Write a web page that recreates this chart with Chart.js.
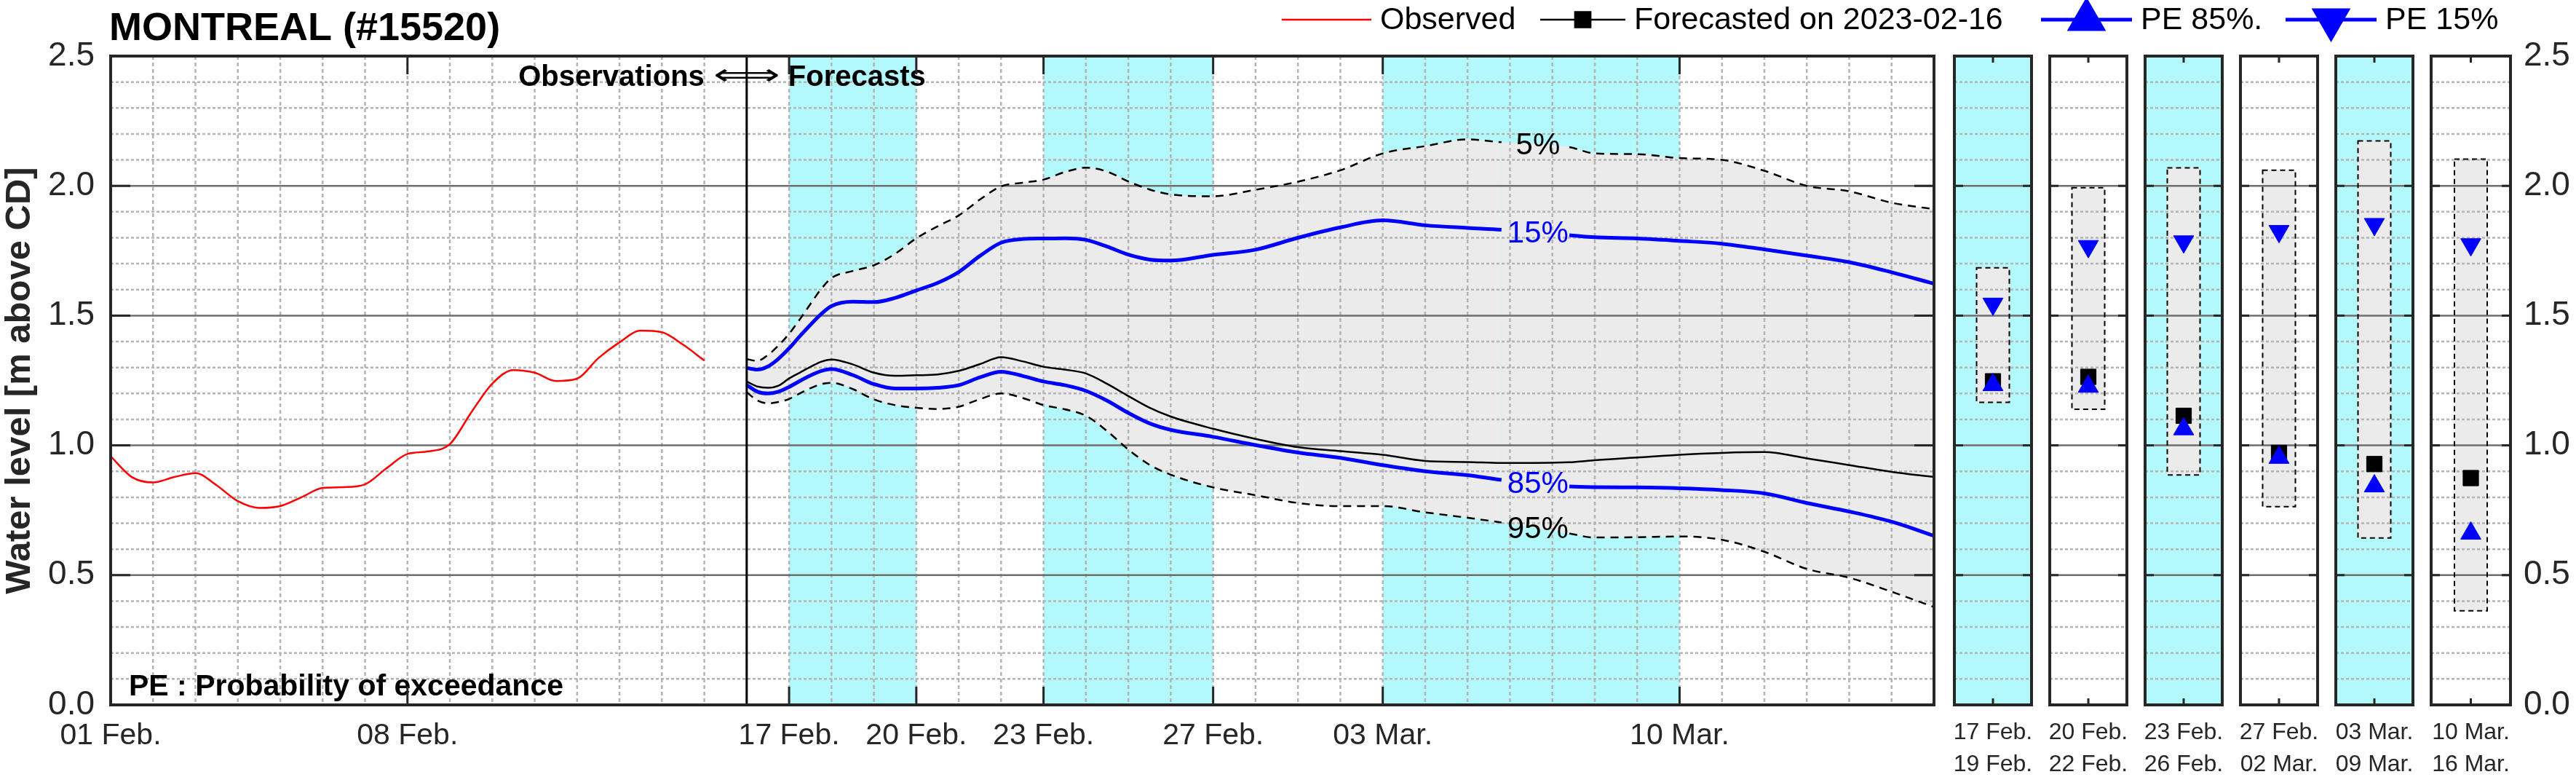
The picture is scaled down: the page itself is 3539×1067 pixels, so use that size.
<!DOCTYPE html>
<html>
<head>
<meta charset="utf-8">
<title>MONTREAL (#15520)</title>
<script src="https://cdn.jsdelivr.net/npm/chart.js@4.4.0/dist/chart.umd.min.js"></script>
<style>
  html, body { margin: 0; padding: 0; background: #fff; }
  #wrap { position: relative; width: 3539px; height: 1067px; overflow: hidden; }
  #wrap canvas { position: absolute; top: 0; }
</style>
</head>
<body>
<div id="wrap"></div>
<script>
// Water level forecast, Montreal station #15520 (days counted from 2023-02-01)

// Observed levels, every half day from 01 Feb. to 15 Feb.
const OBS_DAYS = [0, 0.5, 1, 1.5, 2, 2.5, 3, 3.5, 4, 4.5, 5, 5.5, 6, 6.5, 7, 7.5,
    8, 8.5, 9, 9.5, 10, 10.5, 11, 11.5, 12, 12.5, 13, 13.5, 14];
const OBS_LEVEL = [0.958, 0.878, 0.857, 0.878, 0.893, 0.846, 0.785, 0.759, 0.766, 0.800,
    0.836, 0.839, 0.850, 0.911, 0.967, 0.977, 1.005, 1.126, 1.238, 1.290, 1.280, 1.248,
    1.257, 1.336, 1.397, 1.442, 1.436, 1.388, 1.327];

// Forecast issued on 2023-02-16
const ISSUE_DAY = 15;
const FC_DAYS = [15, 15.25, 15.5, 15.75, 16, 16.25, 16.5, 16.75, 17, 17.5, 18, 18.5, 19, 19.5,
    20, 20.5, 21, 21.5, 22, 22.5, 23, 23.5, 24, 24.5, 25, 26, 27, 28, 29, 30, 31, 32, 32.8,
    34.4, 35, 36, 37, 38, 39, 40, 41, 42, 43];
const FC_LEVEL = [1.246, 1.227, 1.222, 1.230, 1.258, 1.280, 1.302, 1.322, 1.331, 1.312, 1.280,
    1.268, 1.270, 1.273, 1.287, 1.313, 1.340, 1.324, 1.303, 1.292, 1.277, 1.237, 1.190, 1.145,
    1.111, 1.064, 1.025, 0.993, 0.978, 0.964, 0.940, 0.936, 0.932, 0.935, 0.943, 0.953, 0.964,
    0.971, 0.974, 0.950, 0.924, 0.898, 0.878];
const FC_P5 = [1.332, 1.326, 1.348, 1.385, 1.430, 1.485, 1.544, 1.601, 1.645, 1.672, 1.694,
    1.738, 1.798, 1.844, 1.886, 1.947, 1.998, 2.012, 2.024, 2.053, 2.070, 2.055, 2.017, 1.986,
    1.967, 1.960, 1.985, 2.016, 2.060, 2.125, 2.153, 2.179, 2.168, 2.149, 2.125, 2.122, 2.107,
    2.100, 2.058, 2.000, 1.979, 1.935, 1.910];
const FC_P15 = [1.298, 1.292, 1.304, 1.334, 1.374, 1.420, 1.464, 1.505, 1.537, 1.554, 1.552,
    1.568, 1.597, 1.626, 1.668, 1.730, 1.781, 1.795, 1.797, 1.798, 1.792, 1.766, 1.735, 1.716,
    1.712, 1.734, 1.754, 1.800, 1.840, 1.867, 1.848, 1.838, 1.831, 1.810, 1.802, 1.797, 1.788,
    1.777, 1.755, 1.731, 1.706, 1.667, 1.623];
const FC_P85 = [1.233, 1.207, 1.200, 1.207, 1.225, 1.248, 1.269, 1.286, 1.294, 1.271, 1.236,
    1.219, 1.219, 1.222, 1.232, 1.262, 1.284, 1.268, 1.246, 1.232, 1.210, 1.172, 1.125, 1.085,
    1.060, 1.033, 1.001, 0.972, 0.952, 0.924, 0.900, 0.885, 0.867, 0.842, 0.839, 0.838, 0.835,
    0.828, 0.815, 0.778, 0.745, 0.706, 0.652];
const FC_P95 = [1.205, 1.173, 1.162, 1.167, 1.179, 1.200, 1.220, 1.236, 1.241, 1.217, 1.177,
    1.155, 1.145, 1.140, 1.149, 1.178, 1.200, 1.183, 1.155, 1.139, 1.114, 1.055, 0.984, 0.925,
    0.887, 0.838, 0.808, 0.778, 0.766, 0.766, 0.742, 0.721, 0.703, 0.660, 0.645, 0.646, 0.649,
    0.636, 0.590, 0.524, 0.490, 0.436, 0.377];
// where the curve labels sit (line left open between these two days)
const LABEL_GAP = [32.8, 34.4];

// x axis ticks
const TICK_DAYS = [0, 7, 16, 19, 22, 26, 30, 37];
const TICK_LABELS = ['01 Feb.', '08 Feb.', '17 Feb.', '20 Feb.', '23 Feb.', '27 Feb.', '03 Mar.', '10 Mar.'];
const SHADED_SPANS = [[16, 19], [22, 26], [30, 37]];

// Summary per period (small panels)
const PERIOD_START = [16, 19, 22, 26, 30, 37];
const PERIOD_LABELS = [['17 Feb.', '19 Feb.'], ['20 Feb.', '22 Feb.'], ['23 Feb.', '26 Feb.'],
    ['27 Feb.', '02 Mar.'], ['03 Mar.', '09 Mar.'], ['10 Mar.', '16 Mar.']];
const PERIOD_P95 = [1.166, 1.139, 0.886, 0.764, 0.643, 0.363];
const PERIOD_P5 = [1.684, 1.993, 2.069, 2.060, 2.173, 2.103];
const PERIOD_FC = [1.247, 1.264, 1.114, 0.971, 0.928, 0.874];
const PERIOD_PE85 = [1.233, 1.227, 1.063, 0.953, 0.843, 0.661];
const PERIOD_PE15 = [1.545, 1.767, 1.785, 1.825, 1.852, 1.774];

// Layout / style
const W = 3539, H = 1067;
const AREA_TOP = 77, AREA_BOTTOM = 968;
const MAIN_LEFT = 152, MAIN_RIGHT = 2657;
const PANEL_LEFT = [2682, 2813, 2944, 3075, 3206, 3337];
const PANEL_W = 112;
const PANEL_MARGIN = 14;
const FONT = "'Liberation Sans', Arial, Helvetica, sans-serif";
const INK = '#262626';
const CYAN = '#b3f8fa';
const BAND = '#ebebeb';
const BLUE = '#0000ff';
const RED = '#ff0000';
const GRID_MINOR = '#b4b4b4';
const GRID_MAJOR = '#6e6e6e';

Chart.defaults.font.family = FONT;
Chart.defaults.color = INK;

const wrap = document.getElementById('wrap');

function makeCanvas(left, width) {
    const c = document.createElement('canvas');
    c.width = width;
    c.height = H;
    c.style.left = left + 'px';
    c.style.width = width + 'px';
    c.style.height = H + 'px';
    wrap.appendChild(c);
    return c;
}

function pts(xs, ys) {
    return xs.map((x, i) => ({ x: x, y: ys[i] }));
}

function strokeLine(ctx, x0, y0, x1, y1) {
    ctx.beginPath();
    ctx.moveTo(x0, y0);
    ctx.lineTo(x1, y1);
    ctx.stroke();
}

// hide the line where a label is written
const labelGap = {
    borderColor: c => (c.p0.parsed.x >= LABEL_GAP[0] - 0.01 && c.p1.parsed.x <= LABEL_GAP[1] + 0.01)
        ? 'rgba(0,0,0,0)' : undefined
};

// Grid drawn by hand so it sits above the fills but under the lines
function drawGrid(chart, withDays) {
    const { ctx, chartArea: a, scales: { x, y } } = chart;
    ctx.save();
    ctx.beginPath();
    ctx.rect(a.left, a.top, a.right - a.left, a.bottom - a.top);
    ctx.clip();
    ctx.lineWidth = 2.5;
    ctx.strokeStyle = GRID_MINOR;
    ctx.setLineDash([4, 3]);
    for (let k = 1; k < 25; k++) {
        if (k % 5 === 0) continue;
        const py = y.getPixelForValue(k / 10);
        strokeLine(ctx, a.left, py, a.right, py);
    }
    if (withDays) {
        ctx.setLineDash([5, 4]);
        for (let d = Math.ceil(x.min) + 1; d < x.max; d++) {
            const px = x.getPixelForValue(d);
            strokeLine(ctx, px, a.top, px, a.bottom);
        }
    }
    ctx.setLineDash([]);
    ctx.strokeStyle = GRID_MAJOR;
    ctx.lineWidth = 2.5;
    for (let k = 5; k < 25; k += 5) {
        const py = y.getPixelForValue(k / 10);
        strokeLine(ctx, a.left, py, a.right, py);
    }
    ctx.restore();
}

function drawFrame(chart, xTickPx, yTickLen, xTickLen) {
    const { ctx, chartArea: a, scales: { y } } = chart;
    ctx.save();
    ctx.setLineDash([]);
    ctx.strokeStyle = INK;
    ctx.lineWidth = 3;
    for (let k = 5; k < 25; k += 5) {
        const py = y.getPixelForValue(k / 10);
        strokeLine(ctx, a.left, py, a.left + yTickLen, py);
        strokeLine(ctx, a.right - yTickLen, py, a.right, py);
    }
    xTickPx.forEach(px => {
        strokeLine(ctx, px, a.bottom, px, a.bottom - xTickLen);
        strokeLine(ctx, px, a.top, px, a.top + xTickLen);
    });
    ctx.lineWidth = 4;
    ctx.strokeRect(a.left, a.top, a.right - a.left, a.bottom - a.top);
    ctx.restore();
}

function drawMarker(ctx, style, rotation, radius, x, y, color) {
    ctx.fillStyle = color;
    ctx.strokeStyle = color;
    Chart.helpers.drawPoint(ctx, { pointStyle: style, rotation: rotation, radius: radius, borderWidth: 1 }, x, y);
}

// ---------- main chart ----------
const mainDecor = {
    id: 'mainDecor',
    beforeDraw(chart) {
        const { ctx, chartArea: a, scales: { x } } = chart;
        ctx.save();
        ctx.fillStyle = CYAN;
        SHADED_SPANS.forEach(([d0, d1]) => {
            const x0 = x.getPixelForValue(d0), x1 = x.getPixelForValue(d1);
            ctx.fillRect(x0, a.top, x1 - x0, a.bottom - a.top);
        });
        ctx.restore();
    },
    beforeDatasetsDraw(chart) {
        drawGrid(chart, true);
    },
    afterDatasetsDraw(chart) {
        const { ctx, chartArea: a, scales: { x, y } } = chart;
        ctx.save();

        // curve labels inside the gaps
        const i0 = FC_DAYS.indexOf(LABEL_GAP[0]), i1 = FC_DAYS.indexOf(LABEL_GAP[1]);
        const lx = x.getPixelForValue((LABEL_GAP[0] + LABEL_GAP[1]) / 2 + 0.06);
        ctx.font = '42px ' + FONT;
        ctx.textAlign = 'center';
        ctx.textBaseline = 'middle';
        [['5%', FC_P5, '#000'], ['15%', FC_P15, BLUE], ['85%', FC_P85, BLUE], ['95%', FC_P95, '#000']]
            .forEach(([txt, arr, col]) => {
                ctx.fillStyle = col;
                ctx.fillText(txt, lx, y.getPixelForValue((arr[i0] + arr[i1]) / 2) + 2);
            });

        // observation / forecast divider
        const xd = x.getPixelForValue(ISSUE_DAY);
        ctx.strokeStyle = '#000';
        ctx.lineWidth = 3;
        strokeLine(ctx, xd, a.top, xd, a.bottom);

        ctx.fillStyle = '#000';
        ctx.textBaseline = 'alphabetic';
        ctx.font = 'bold 40px ' + FONT;
        ctx.textAlign = 'right';
        ctx.fillText('Observations', xd - 58, 118);
        ctx.textAlign = 'left';
        ctx.fillText('Forecasts', xd + 57, 118);
        ctx.save();
        ctx.translate(xd, 116);
        ctx.scale(1.6, 1);
        ctx.font = '40px "DejaVu Sans", ' + FONT;
        ctx.textAlign = 'center';
        ctx.fillText('\u27FA', 0, 0);
        ctx.restore();

        ctx.font = 'bold 41px ' + FONT;
        ctx.textAlign = 'left';
        ctx.fillText('PE : Probability of exceedance', 177, 955);

        ctx.restore();
        drawFrame(chart, TICK_DAYS.slice(1).map(d => x.getPixelForValue(d)), 27, 25);
    },
    afterDraw(chart) {
        const { ctx, chartArea: a } = chart;
        ctx.save();
        // title
        ctx.fillStyle = '#000';
        ctx.font = 'bold 54px ' + FONT;
        ctx.textAlign = 'left';
        ctx.textBaseline = 'alphabetic';
        ctx.fillText('MONTREAL (#15520)', 150, 55);

        // y axis title
        ctx.save();
        ctx.translate(27, (a.top + a.bottom) / 2);
        ctx.rotate(-Math.PI / 2);
        ctx.font = 'bold 49px ' + FONT;
        ctx.textAlign = 'center';
        ctx.textBaseline = 'middle';
        ctx.fillStyle = INK;
        ctx.fillText('Water level [m above CD]', 0, 0);
        ctx.restore();

        // legend
        const ly = 27;
        const items = [
            { x0: 1761, x1: 1884, color: RED, width: 2.5, text: 'Observed' },
            { x0: 2116, x1: 2233, color: '#000', width: 2.5, text: 'Forecasted on 2023-02-16', marker: ['rect', 0, 15] },
            { x0: 2804, x1: 2929, color: BLUE, width: 5, text: 'PE 85%.', marker: ['triangle', 0, 26] },
            { x0: 3140, x1: 3265, color: BLUE, width: 5, text: 'PE 15%', marker: ['triangle', 180, 26] }
        ];
        ctx.font = '43px ' + FONT;
        ctx.textAlign = 'left';
        ctx.textBaseline = 'alphabetic';
        items.forEach(it => {
            ctx.strokeStyle = it.color;
            ctx.lineWidth = it.width;
            strokeLine(ctx, it.x0, ly, it.x1, ly);
            if (it.marker) {
                drawMarker(ctx, it.marker[0], it.marker[1], it.marker[2], (it.x0 + it.x1) / 2, ly, it.color);
            }
            ctx.fillStyle = '#000';
            ctx.fillText(it.text, it.x1 + 12, 40);
        });
        ctx.restore();
    }
};

new Chart(makeCanvas(0, W), {
    type: 'line',
    data: {
        datasets: [
            { label: '5%', data: pts(FC_DAYS, FC_P5), borderColor: '#000', borderWidth: 2.5,
              borderDash: [11, 8], fill: false, segment: labelGap },
            { label: '95%', data: pts(FC_DAYS, FC_P95), borderColor: '#000', borderWidth: 2.5,
              borderDash: [11, 8], fill: '-1', backgroundColor: BAND, segment: labelGap },
            { label: 'Forecasted on 2023-02-16', data: pts(FC_DAYS, FC_LEVEL), borderColor: '#000',
              borderWidth: 2.5, fill: false },
            { label: 'PE 85%', data: pts(FC_DAYS, FC_P85), borderColor: BLUE, borderWidth: 5,
              fill: false, segment: labelGap },
            { label: 'PE 15%', data: pts(FC_DAYS, FC_P15), borderColor: BLUE, borderWidth: 5,
              fill: false, segment: labelGap },
            { label: 'Observed', data: pts(OBS_DAYS, OBS_LEVEL), borderColor: RED, borderWidth: 2.5,
              fill: false }
        ]
    },
    options: {
        responsive: false,
        animation: false,
        events: [],
        layout: { padding: { top: AREA_TOP, right: W - MAIN_RIGHT, left: 0, bottom: 0 } },
        elements: {
            point: { radius: 0 },
            line: { cubicInterpolationMode: 'monotone' }
        },
        plugins: {
            legend: { display: false },
            tooltip: { enabled: false },
            filler: { drawTime: 'beforeDatasetsDraw' }
        },
        scales: {
            x: {
                type: 'linear',
                min: 0,
                max: 43,
                grid: { display: false, drawTicks: false },
                border: { display: false },
                afterBuildTicks: s => { s.ticks = TICK_DAYS.map(v => ({ value: v })); },
                afterFit: s => { s.height = H - AREA_BOTTOM; },
                ticks: {
                    autoSkip: false,
                    maxRotation: 0,
                    padding: 18,
                    color: INK,
                    font: { size: 41 },
                    callback: v => TICK_LABELS[TICK_DAYS.indexOf(v)]
                }
            },
            y: {
                min: 0,
                max: 2.5,
                grid: { display: false, drawTicks: false },
                border: { display: false },
                afterFit: s => { s.width = MAIN_LEFT; },
                ticks: {
                    stepSize: 0.5,
                    padding: 22,
                    color: INK,
                    font: { size: 46 },
                    callback: v => v.toFixed(1)
                }
            }
        }
    },
    plugins: [mainDecor]
});

// ---------- period panels ----------
PERIOD_START.forEach((start, i) => {
    const last = i === PERIOD_START.length - 1;
    const left = PANEL_LEFT[i] - PANEL_MARGIN;
    const width = last ? W - left : PANEL_W + 2 * PANEL_MARGIN;
    const shaded = SHADED_SPANS.some(s => s[0] === start);

    const panelDecor = {
        id: 'panelDecor' + i,
        beforeDraw(chart) {
            if (!shaded) return;
            const { ctx, chartArea: a } = chart;
            ctx.save();
            ctx.fillStyle = CYAN;
            ctx.fillRect(a.left, a.top, a.right - a.left, a.bottom - a.top);
            ctx.restore();
        },
        afterDatasetDraw(chart, args) {
            if (args.meta.type !== 'bar') return;
            drawGrid(chart, false);
            const bar = args.meta.data[0];
            const p = bar.getProps(['x', 'y', 'base', 'width'], true);
            const ctx = chart.ctx;
            ctx.save();
            ctx.strokeStyle = '#000';
            ctx.lineWidth = 2;
            ctx.setLineDash([7, 5]);
            ctx.strokeRect(p.x - p.width / 2, p.y, p.width, p.base - p.y);
            ctx.restore();
        },
        afterDatasetsDraw(chart) {
            const a = chart.chartArea;
            drawFrame(chart, [(a.left + a.right) / 2], 12, 9);
        }
    };

    new Chart(makeCanvas(left, width), {
        type: 'bar',
        data: {
            labels: [PERIOD_LABELS[i]],
            datasets: [
                { type: 'line', label: 'PE 15%', data: [PERIOD_PE15[i]], showLine: false,
                  pointStyle: 'triangle', pointRotation: 180, pointRadius: 16,
                  pointBackgroundColor: BLUE, pointBorderColor: BLUE, pointBorderWidth: 1, order: 1 },
                { type: 'line', label: 'PE 85%', data: [PERIOD_PE85[i]], showLine: false,
                  pointStyle: 'triangle', pointRadius: 16,
                  pointBackgroundColor: BLUE, pointBorderColor: BLUE, pointBorderWidth: 1, order: 1 },
                { type: 'line', label: 'Forecasted', data: [PERIOD_FC[i]], showLine: false,
                  pointStyle: 'rect', pointRadius: 15,
                  pointBackgroundColor: '#000', pointBorderColor: '#000', pointBorderWidth: 1, order: 2 },
                { type: 'bar', label: '5% - 95%', data: [[PERIOD_P95[i], PERIOD_P5[i]]],
                  backgroundColor: BAND, borderWidth: 0, barThickness: 45, order: 3 }
            ]
        },
        options: {
            responsive: false,
            animation: false,
            events: [],
            layout: { padding: { top: AREA_TOP, left: PANEL_MARGIN, right: last ? 0 : PANEL_MARGIN, bottom: 0 } },
            plugins: { legend: { display: false }, tooltip: { enabled: false } },
            scales: {
                x: {
                    grid: { display: false, drawTicks: false },
                    border: { display: false },
                    afterFit: s => {
                        s.height = H - AREA_BOTTOM;
                        s.paddingLeft = 0;
                        s.paddingRight = 0;
                    },
                    ticks: {
                        autoSkip: false,
                        maxRotation: 0,
                        minRotation: 0,
                        padding: 17,
                        color: INK,
                        font: { size: 32, lineHeight: 1.35 }
                    }
                },
                y: {
                    display: last,
                    position: 'right',
                    min: 0,
                    max: 2.5,
                    grid: { display: false, drawTicks: false },
                    border: { display: false },
                    afterFit: s => { s.width = last ? W - (PANEL_LEFT[i] + PANEL_W) : 0; },
                    ticks: {
                        stepSize: 0.5,
                        padding: 18,
                        color: INK,
                        font: { size: 46 },
                        callback: v => v.toFixed(1)
                    }
                }
            }
        },
        plugins: [panelDecor]
    });
});
</script>
</body>
</html>
